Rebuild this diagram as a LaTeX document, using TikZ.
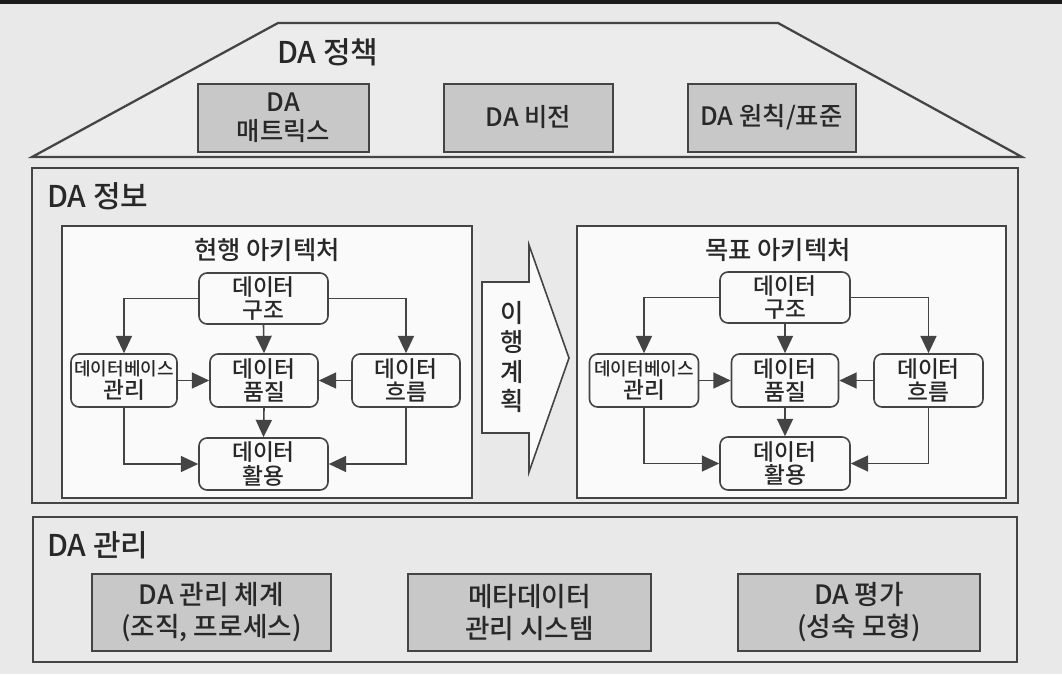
\documentclass[tikz,border=0pt]{standalone}
\usepackage{fontspec}
\setmainfont{Noto Sans CJK KR}[UprightFont={* Medium}]
\usetikzlibrary{arrows.meta}
\definecolor{pagebg}{RGB}{233,233,233}
\definecolor{trapbg}{RGB}{236,236,236}
\definecolor{boxgrey}{RGB}{200,200,200}
\definecolor{linecol}{RGB}{68,68,68}
\definecolor{whitebox}{RGB}{250,250,250}
\definecolor{strip}{RGB}{28,28,28}
\definecolor{txt}{RGB}{40,40,40}
\tikzset{
  greybox/.style={draw=linecol, line width=1.5pt, fill=boxgrey, inner sep=0pt, align=center,
     font=\fontsize{19}{22}\selectfont, text=txt},
  secrect/.style={draw=linecol, line width=1.5pt, fill=pagebg},
  archbox/.style={draw=linecol, line width=1.3pt, fill=whitebox},
  dnode/.style={draw=linecol, line width=1.2pt, rounded corners=6pt, fill=whitebox, inner sep=0pt,
     align=center, font=\fontsize{17}{17.5}\selectfont, text=txt},
  conn/.style={draw=linecol, line width=1.2pt, -{Triangle[length=13pt,width=12pt]}},
  seclabel/.style={anchor=west, font=\fontsize{22.5}{24}\selectfont, text=txt, inner sep=0pt},
  archtitle/.style={font=\fontsize{19}{22}\selectfont, text=txt, inner sep=0pt},
}
\begin{document}
\begin{tikzpicture}[x=0.75pt,y=-0.75pt]
\useasboundingbox (0,0) rectangle (1062,674);
\fill[pagebg] (0,0) rectangle (1062,674);
\fill[strip] (0,0) rectangle (1062,4);

% DA policy trapezoid
\draw[draw=linecol, line width=1.7pt, fill=trapbg] (278,23) -- (778,23) -- (1022,157) -- (32,157) -- cycle;
\node[seclabel] (polLabel) at (277,52) {DA 정책};
\node[greybox, minimum width=128pt, minimum height=51pt] (pm1) at (283.5,117.5) {DA\\매트릭스};
\node[greybox, minimum width=127pt, minimum height=51pt] (pm2) at (528.5,117.5) {DA 비전};
\node[greybox, minimum width=126pt, minimum height=51pt] (pm3) at (771.5,117.5) {DA 원칙/표준};

% DA information section
\draw[secrect] (32,168) rectangle (1018,503);
\node[seclabel] (infoLabel) at (47,196) {DA 정보};
\draw[archbox] (62,226) rectangle (472,498);
\draw[archbox] (577,226) rectangle (1006,498);
\node[archtitle] (curTitle) at (267,250) {현행 아키텍처};
\node[archtitle] (tgtTitle) at (778,250) {목표 아키텍처};

% transition arrow
\draw[draw=linecol, line width=1.2pt, fill=whitebox] (482,282) -- (529,282) -- (529,245) -- (569,358) -- (529,472) -- (529,433) -- (482,433) -- cycle;
\node[align=center, font=\fontsize{19}{22}\selectfont, text=txt, inner sep=0pt] (trans) at (512,357) {이\\행\\계\\획};

% current architecture
\node[dnode, minimum width=96.75pt, minimum height=38.25pt] (Ls) at (263.5,298.5) {데이터\\구조};
\node[dnode, minimum width=79.5pt, minimum height=39.75pt] (Ld) at (124,380.5) {{\fontsize{13.5}{17.5}\selectfont 데이터베이스}\\관리};
\node[dnode, minimum width=81pt, minimum height=39.75pt] (Lq) at (264,380.5) {데이터\\품질};
\node[dnode, minimum width=81pt, minimum height=39.75pt] (Lf) at (406,380.5) {데이터\\흐름};
\node[dnode, minimum width=96.75pt, minimum height=39pt] (Lu) at (263.5,464) {데이터\\활용};
\draw[conn] (Ls.west) -| (Ld.north);
\draw[conn] (Ls.east) -| (Lf.north);
\draw[conn] (Ls.south) -- (Lq.north);
\draw[conn] (Ld.east) -- (Lq.west);
\draw[conn] (Lf.west) -- (Lq.east);
\draw[conn] (Lq.south) -- (Lu.north);
\draw[conn] (Ld.south) |- (Lu.west);
\draw[conn] (Lf.south) |- (Lu.east);

% target architecture
\node[dnode, minimum width=97.5pt, minimum height=38.25pt] (Rs) at (785,297.5) {데이터\\구조};
\node[dnode, minimum width=81.75pt, minimum height=39.75pt] (Rd) at (644,380.5) {{\fontsize{13.5}{17.5}\selectfont 데이터베이스}\\관리};
\node[dnode, minimum width=80.25pt, minimum height=39.75pt] (Rq) at (785,380.5) {데이터\\품질};
\node[dnode, minimum width=81.75pt, minimum height=39.75pt] (Rf) at (928.5,380.5) {데이터\\흐름};
\node[dnode, minimum width=97.5pt, minimum height=39.75pt] (Ru) at (785,463.5) {데이터\\활용};
\draw[conn] (Rs.west) -| (Rd.north);
\draw[conn] (Rs.east) -| (Rf.north);
\draw[conn] (Rs.south) -- (Rq.north);
\draw[conn] (Rd.east) -- (Rq.west);
\draw[conn] (Rf.west) -- (Rq.east);
\draw[conn] (Rq.south) -- (Ru.north);
\draw[conn] (Rd.south) |- (Ru.west);
\draw[conn] (Rf.south) |- (Ru.east);

% DA management section
\draw[secrect] (33,517) rectangle (1017,662);
\node[seclabel] (mgmtLabel) at (47,545) {DA 관리};
\node[greybox, minimum width=179.25pt, minimum height=57.75pt, font=\fontsize{20}{24}\selectfont] (mb1) at (211.5,612.5) {DA 관리 체계\\(조직, 프로세스)};
\node[greybox, minimum width=182.25pt, minimum height=57.75pt, font=\fontsize{20}{24}\selectfont] (mb2) at (529.5,612.5) {메타데이터\\관리 시스템};
\node[greybox, minimum width=181.5pt, minimum height=57.75pt, font=\fontsize{20}{24}\selectfont] (mb3) at (859,612.5) {DA 평가\\(성숙 모형)};
\end{tikzpicture}
\end{document}
